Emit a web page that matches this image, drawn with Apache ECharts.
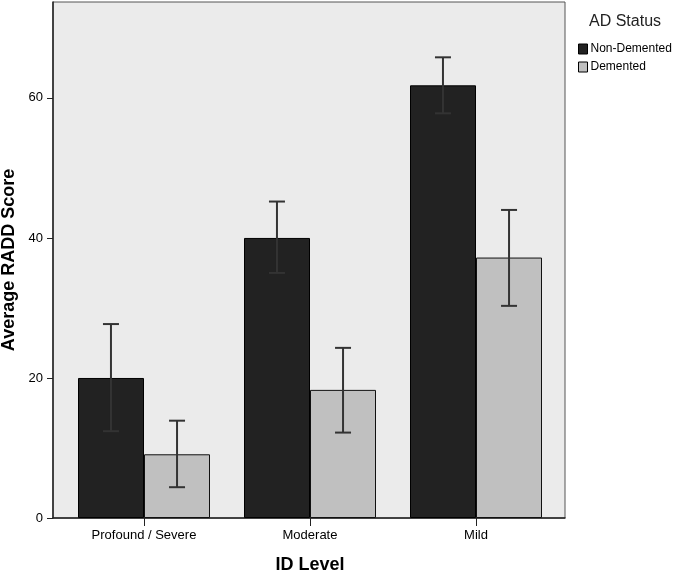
<!DOCTYPE html>
<html>
<head>
<meta charset="utf-8">
<script src="https://cdn.jsdelivr.net/npm/echarts@6/dist/echarts.min.js"></script>
<style>
  html, body { margin: 0; padding: 0; background: #fff; }
  #chart { width: 676px; height: 572px; }
</style>
</head>
<body>
<div id="chart"></div>
<script>
// ID levels on the x axis
const categories = ['Profound / Severe', 'Moderate', 'Mild'];

// mean RADD scores and 95% CI ends
const nonDemented = [20.0, 40.0, 61.8];
const nonDementedLow = [12.4, 35.0, 57.8];
const nonDementedHigh = [27.7, 45.2, 65.8];
const demented = [9.1, 18.3, 37.2];
const dementedLow = [4.4, 12.2, 30.3];
const dementedHigh = [13.9, 24.3, 44.0];

const yTicks = [0, 20, 40, 60];

const chart = echarts.init(document.getElementById('chart'));
const font = 'Liberation Sans, Arial, sans-serif';

// error bar drawn through the inner grid's scales
function errorBar(offset) {
  return function (params, api) {
    const i = api.value(0);
    const lo = api.coord([i, api.value(1)]);
    const hi = api.coord([i, api.value(2)]);
    const x = lo[0] + api.size([1, 0])[0] * offset;
    const cap = 8;
    const style = { stroke: '#333', lineWidth: 2 };
    return {
      type: 'group',
      children: [
        { type: 'line', shape: { x1: x, y1: hi[1], x2: x, y2: lo[1] }, style: style },
        { type: 'line', shape: { x1: x - cap, y1: hi[1], x2: x + cap, y2: hi[1] }, style: style },
        { type: 'line', shape: { x1: x - cap, y1: lo[1], x2: x + cap, y2: lo[1] }, style: style }
      ]
    };
  };
}

const yMax = 73.7;

chart.setOption({
  animation: false,
  textStyle: { fontFamily: font },
  title: {
    text: 'AD Status',
    left: 584,
    top: 9,
    textStyle: { fontSize: 16, fontWeight: 'normal', color: '#222', fontFamily: font }
  },
  legend: {
    orient: 'vertical',
    left: 573,
    top: 38,
    icon: 'rect',
    itemWidth: 9,
    itemHeight: 10,
    itemGap: 6,
    textStyle: { fontSize: 12, color: '#000', padding: [0, 0, 0, -2] },
    data: [
      { name: 'Non-Demented', itemStyle: { color: '#222', borderColor: '#000', borderWidth: 1 } },
      { name: 'Demented', itemStyle: { color: '#c0c0c0', borderColor: '#000', borderWidth: 1 } }
    ]
  },
  grid: [
    { left: 53, right: 111, top: 2, bottom: 54, outerBoundsMode: 'none', show: true, backgroundColor: '#ebebeb', borderColor: '#555', borderWidth: 1 },
    { left: 61, right: 117, top: 2, bottom: 54, outerBoundsMode: 'none' }
  ],
  xAxis: [
    {
      gridIndex: 0, type: 'value', min: 0, max: 1,
      axisLine: { show: true, lineStyle: { color: '#222', width: 1.5 } },
      axisTick: { show: false }, axisLabel: { show: false }, splitLine: { show: false }
    },
    {
      gridIndex: 1, type: 'category', data: categories,
      axisLine: { show: false },
      axisTick: { show: true, alignWithLabel: true, length: 8, lineStyle: { color: '#222' } },
      axisLabel: { fontSize: 13, color: '#000', margin: 11 },
      name: 'ID Level', nameLocation: 'middle', nameGap: 38,
      nameTextStyle: { fontSize: 18, fontWeight: 'bold', color: '#000' }
    }
  ],
  yAxis: [
    {
      gridIndex: 0, type: 'value', min: 0, max: yMax, interval: 20,
      axisLine: { show: true, lineStyle: { color: '#222', width: 1.5 } },
      axisTick: { show: true, length: 6, customValues: yTicks, lineStyle: { color: '#222' } },
      axisLabel: { fontSize: 13, color: '#000', margin: 10, customValues: yTicks },
      splitLine: { show: false },
      name: 'Average RADD Score', nameLocation: 'middle', nameGap: 33,
      nameTextStyle: { fontSize: 18, fontWeight: 'bold', color: '#000' }
    },
    {
      gridIndex: 1, type: 'value', min: 0, max: yMax, interval: 20,
      show: false
    }
  ],
  series: [
    {
      name: 'Non-Demented', type: 'bar', xAxisIndex: 1, yAxisIndex: 1,
      data: nonDemented, barWidth: 66, barGap: '0%',
      itemStyle: { color: '#222', borderColor: '#000', borderWidth: 1 }
    },
    {
      name: 'Demented', type: 'bar', xAxisIndex: 1, yAxisIndex: 1,
      data: demented, barWidth: 66, barGap: '0%',
      itemStyle: { color: '#c0c0c0', borderColor: '#111', borderWidth: 1 }
    },
    {
      type: 'custom', xAxisIndex: 1, yAxisIndex: 1, z: 5,
      renderItem: errorBar(-0.199),
      data: categories.map((c, i) => [i, nonDementedLow[i], nonDementedHigh[i]])
    },
    {
      type: 'custom', xAxisIndex: 1, yAxisIndex: 1, z: 5,
      renderItem: errorBar(0.199),
      data: categories.map((c, i) => [i, dementedLow[i], dementedHigh[i]])
    }
  ]
});
</script>
</body>
</html>
